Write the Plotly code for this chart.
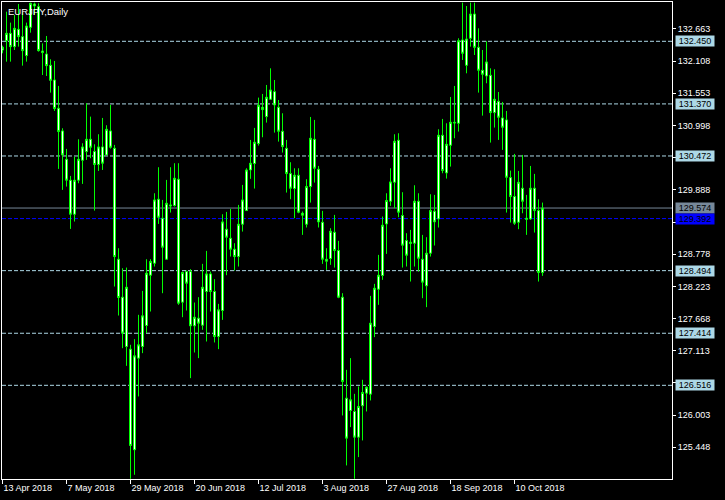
import plotly.graph_objects as go
import pandas as pd

# ---- data (EURJPY daily candles) ----
dates = pd.bdate_range("2018-04-13", periods=136)

open_ = [132.300, 132.461, 132.588, 132.358, 132.657, 132.530, 132.203, 132.691, 133.094, 133.048,
         132.283, 132.231, 132.036, 131.783, 131.295, 130.904, 130.415, 130.054, 129.467, 130.054,
         130.398, 130.548, 130.760, 130.548, 130.324, 130.628, 130.490, 130.904, 130.605, 128.691,
         128.036, 127.186, 127.140, 125.404, 126.985, 127.186, 127.548, 128.415, 128.622, 129.726,
         129.398, 128.691, 129.628, 129.617, 130.071, 127.950, 128.478, 128.478, 127.542, 127.674,
         127.553, 128.134, 128.438, 128.134, 127.358, 127.806, 129.209, 129.053, 128.864, 128.737,
         129.295, 129.530, 130.231, 130.341, 130.686, 131.312, 131.151, 131.450, 131.582, 131.312,
         130.898, 130.605, 130.168, 129.910, 130.140, 129.484, 129.295, 129.944, 130.760, 130.243,
         129.329, 128.691, 128.703, 129.157, 128.841, 128.036, 126.295, 126.082, 126.065, 125.622,
         126.163, 126.381, 126.364, 127.530, 128.174, 128.410, 129.300, 129.691, 130.019, 130.743,
         129.444, 129.013, 128.962, 128.967, 129.691, 128.691, 128.232, 128.795, 129.519, 129.387,
         130.829, 130.180, 130.657, 131.053, 131.036, 132.473, 132.036, 132.502, 132.921, 132.346,
         131.950, 131.852, 131.864, 131.220, 131.415, 131.128, 131.094, 130.099, 129.772, 129.329,
         129.916, 129.398, 129.387, 129.916, 129.530, 128.461]

high = [132.375, 132.961, 132.772, 132.904, 133.094, 132.961, 132.772, 133.117, 133.117, 133.105,
        132.415, 132.542, 132.140, 132.111, 131.680, 130.950, 130.594, 130.128, 130.461, 130.760,
        130.691, 131.381, 131.151, 130.674, 130.847, 131.128, 131.002, 131.352, 130.663, 128.881,
        128.536, 128.547, 127.215, 127.312, 127.732, 128.145, 128.691, 128.691, 129.829, 130.278,
        129.714, 130.059, 130.278, 130.347, 130.347, 128.478, 128.496, 128.519, 127.944, 128.036,
        128.611, 128.835, 128.478, 128.347, 127.921, 129.467, 129.507, 129.559, 128.967, 129.628,
        129.973, 130.260, 130.749, 130.956, 131.479, 131.542, 131.697, 131.984, 131.783, 131.438,
        131.209, 130.749, 130.364, 130.260, 130.260, 129.513, 130.071, 131.145, 131.094, 130.300,
        129.525, 128.881, 129.226, 129.456, 129.008, 128.105, 126.783, 126.985, 126.369, 126.496,
        126.611, 126.496, 128.059, 128.266, 128.766, 129.427, 129.829, 130.260, 130.847, 130.864,
        129.847, 129.140, 129.197, 129.967, 129.829, 129.111, 129.071, 129.812, 129.801, 130.933,
        131.111, 131.036, 131.490, 131.680, 132.502, 133.117, 133.059, 133.117, 133.117, 132.674,
        132.300, 132.450, 131.984, 131.967, 131.576, 131.404, 131.249, 130.220, 130.508, 130.214,
        130.490, 129.801, 130.300, 130.163, 129.726, 129.668]

low = [132.243, 132.099, 132.099, 132.300, 132.358, 132.030, 132.099, 132.599, 132.904, 132.272,
       131.869, 131.852, 131.565, 131.249, 130.249, 129.887, 129.944, 129.214, 129.341, 130.002,
       129.990, 130.404, 130.433, 129.530, 130.214, 130.231, 130.490, 130.599, 128.220, 127.720,
       127.157, 126.852, 124.904, 124.973, 126.324, 127.071, 127.416, 127.789, 128.565, 129.300,
       128.105, 128.680, 129.496, 129.599, 127.904, 127.691, 127.806, 126.640, 127.082, 126.985,
       127.473, 127.272, 127.789, 127.255, 127.140, 127.645, 128.415, 128.737, 128.496, 128.565,
       129.168, 129.530, 130.077, 129.910, 130.651, 130.795, 131.048, 131.438, 130.875, 130.720,
       130.531, 129.841, 129.726, 129.398, 129.484, 129.111, 129.238, 129.668, 130.013, 129.238,
       128.611, 128.507, 128.594, 128.547, 128.019, 125.996, 125.134, 125.795, 124.904, 125.278,
       125.565, 126.065, 126.255, 127.347, 127.904, 128.335, 128.783, 129.611, 129.571, 129.415,
       128.547, 128.565, 128.306, 128.565, 128.478, 128.019, 127.864, 128.737, 128.927, 129.238,
       130.174, 130.082, 130.289, 130.778, 130.893, 132.128, 131.898, 132.358, 132.214, 131.565,
       131.168, 131.726, 130.703, 130.962, 130.749, 130.577, 129.496, 129.324, 129.283, 129.209,
       129.484, 129.111, 129.369, 129.151, 128.306, 128.404]

close = [132.346, 132.588, 132.358, 132.674, 132.530, 132.289, 132.714, 133.105, 133.059, 132.289,
         132.255, 132.030, 131.777, 131.289, 130.893, 130.490, 130.054, 129.467, 130.054, 130.415,
         130.628, 130.760, 130.622, 130.324, 130.628, 130.347, 130.933, 130.622, 128.737, 128.031,
         127.416, 128.208, 125.479, 127.025, 127.215, 127.714, 128.450, 128.651, 129.714, 129.415,
         128.898, 129.657, 129.611, 130.088, 127.933, 128.461, 128.277, 127.542, 127.691, 127.588,
         128.208, 128.438, 128.134, 127.358, 127.818, 129.335, 129.071, 128.864, 128.737, 129.295,
         129.714, 130.231, 130.347, 130.709, 131.347, 131.272, 131.485, 131.611, 131.352, 130.898,
         130.634, 130.168, 129.916, 130.140, 129.502, 129.450, 129.944, 130.778, 130.260, 129.335,
         128.691, 128.657, 129.174, 128.841, 128.036, 126.582, 125.605, 126.266, 125.622, 126.151,
         126.392, 126.484, 127.588, 128.191, 128.415, 129.278, 129.703, 130.025, 130.726, 129.502,
         128.933, 128.760, 128.985, 129.691, 128.708, 128.295, 128.795, 129.530, 129.335, 130.829,
         130.220, 130.674, 131.053, 131.042, 132.461, 132.243, 132.490, 132.921, 132.346, 131.950,
         131.881, 132.094, 131.220, 131.450, 131.140, 130.967, 130.105, 129.772, 129.312, 130.019,
         129.691, 129.381, 129.916, 129.530, 128.461, 129.571]

level_lines = [132.450, 131.370, 130.472, 128.494, 127.414, 126.516]
bid_price = 129.574
blue_line = 129.392
price_ticks = [125.448, 126.003, 126.558, 127.113, 127.668, 128.223, 128.778,
               129.333, 129.888, 130.443, 130.998, 131.553, 132.108, 132.663]
hidden_price_ticks = [126.558, 129.333, 130.443]   # covered by the price labels
date_tick_idx = [0, 16, 32, 48, 64, 80, 96, 112, 128]
title_text = "EURJPY,Daily"

# ---- figure ----
idx = list(range(len(open_)))
date_tick_text = [dates[i].strftime("%-d %b %Y") for i in date_tick_idx]
price_tick_text = ["" if v in hidden_price_ticks else f"{v:.3f}" for v in price_ticks]

GREEN = "#00FF00"
fig = go.Figure()
fig.add_trace(go.Candlestick(
    x=idx, open=open_, high=high, low=low, close=close,
    increasing=dict(line=dict(color=GREEN, width=1), fillcolor="#FFFFFF"),
    decreasing=dict(line=dict(color=GREEN, width=1), fillcolor="#FFFFFF"),
    whiskerwidth=0, hoverinfo="skip", showlegend=False,
))

FONT = "Liberation Sans, Arial, sans-serif"
shapes = []
annotations = []
for lv in level_lines:
    shapes.append(dict(type="line", xref="paper", x0=0, x1=1, yref="y", y0=lv, y1=lv,
                       line=dict(color="#ADD8E6", width=1, dash="4px,2px"), layer="below"))
    annotations.append(dict(xref="paper", x=1, xanchor="left", xshift=3, yref="y", y=lv,
                            yanchor="middle", text=f"{lv:.3f}", showarrow=False,
                            bgcolor="#ADD8E6", width=38, height=10, borderpad=0,
                            font=dict(family=FONT, size=9, color="#000000")))
shapes.append(dict(type="line", xref="paper", x0=0, x1=1, yref="y", y0=bid_price, y1=bid_price,
                   line=dict(color="#778899", width=1), layer="below"))
shapes.append(dict(type="line", xref="paper", x0=0, x1=1, yref="y", y0=blue_line, y1=blue_line,
                   line=dict(color="#0000FF", width=1, dash="4px,2px"), layer="below"))
annotations.append(dict(xref="paper", x=1, xanchor="left", xshift=3, yref="y", y=bid_price,
                        yanchor="middle", text=f"{bid_price:.3f}", showarrow=False,
                        bgcolor="#778899", width=38, height=10, borderpad=0,
                        font=dict(family=FONT, size=9, color="#000000")))
annotations.append(dict(xref="paper", x=1, xanchor="left", xshift=3, yref="y", y=blue_line,
                        yanchor="middle", text=f"{blue_line:.3f}", showarrow=False,
                        bgcolor="#0000FF", width=38, height=10, borderpad=0,
                        font=dict(family=FONT, size=9, color="#000000")))
annotations.append(dict(xref="paper", yref="paper", x=0, y=1, xanchor="left", yanchor="top",
                        xshift=4, yshift=-2, text=title_text, showarrow=False,
                        font=dict(family=FONT, size=9.5, color="#FFFFFF")))

fig.update_layout(
    width=725, height=500,
    margin=dict(l=2, r=53, t=2, b=21, pad=0),
    paper_bgcolor="#000000", plot_bgcolor="#000000",
    font=dict(family=FONT, size=9, color="#FFFFFF"),
    shapes=shapes, annotations=annotations,
    boxgap=0.5, boxgroupgap=0,
    showlegend=False,
    xaxis=dict(range=[-0.125, 167.375], rangeslider=dict(visible=False),
               tickmode="array", tickvals=date_tick_idx, ticktext=date_tick_text,
               ticks="outside", ticklen=4, tickcolor="#FFFFFF", tickwidth=1,
               ticklabelposition="outside right",
               showgrid=False, zeroline=False, showline=True, mirror=True,
               linecolor="#FFFFFF", linewidth=1,
               tickfont=dict(family=FONT, size=9, color="#FFFFFF")),
    yaxis=dict(range=[124.900, 133.128], side="right",
               tickmode="array", tickvals=price_ticks, ticktext=price_tick_text,
               ticks="outside", ticklen=3, tickcolor="#FFFFFF", tickwidth=1,
               showgrid=False, zeroline=False, showline=True, mirror=True,
               linecolor="#FFFFFF", linewidth=1,
               tickfont=dict(family=FONT, size=9, color="#FFFFFF")),
)

fig.write_html("out.html", config={"displayModeBar": False})
# remove the browser's default page margin so the chart sits at the window's corner
with open("out.html", "r", encoding="utf-8") as fh:
    html = fh.read()
html = html.replace("<head>", "<head><style>html,body{margin:0;padding:0;background:#000;}</style>", 1)
with open("out.html", "w", encoding="utf-8") as fh:
    fh.write(html)
